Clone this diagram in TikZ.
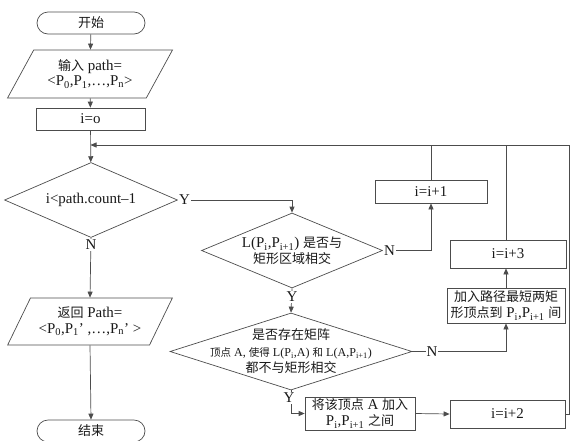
\documentclass[tikz,border=0pt]{standalone}
\usepackage{fontspec}
\setmainfont{Liberation Serif}[Scale=1.15]
\newfontfamily\cjk{Noto Sans CJK SC}
\usetikzlibrary{shapes.geometric,arrows.meta,calc}
\newcommand\zh[1]{{\cjk #1}}
\newcommand\sub[1]{\textsubscript{#1}}
\begin{document}
\begin{tikzpicture}[x=1pt,y=-1pt,
  line width=0.7pt,
  every node/.style={text=black!90, font=\fontsize{13}{15.5}\selectfont},
  box/.style={draw=black!70, rectangle, inner sep=1pt, align=center},
  term/.style={draw=black!70, rectangle, rounded corners=11pt, minimum width=108pt, minimum height=22pt, inner sep=0pt},
  io/.style={draw=black!70, trapezium, trapezium left angle=56, trapezium right angle=124, trapezium stretches=true, minimum width=165pt, minimum height=48pt, inner sep=0pt, align=center},
  dec/.style={draw=black!70, diamond, inner sep=0pt},
  txt/.style={align=center, inner sep=0pt},
  lbl/.style={inner sep=1pt, fill=white},
  arr/.style={draw=black!70, -{Triangle[length=6pt,width=5pt]}},
  ln/.style={draw=black!70}
]
\useasboundingbox (0,0) rectangle (570,440);
% left column
\node[term] (start) at (91,23) {\zh{开始}};
\node[io] (input) at (90,74) {\zh{输入} path=\\\textless P\sub{0},P\sub{1},…,P\sub{n}\textgreater};
\node[box, minimum width=109pt, minimum height=22pt] (init) at (90.5,119) {i=o};
\node[dec, minimum width=173pt, minimum height=75pt] (d1) at (91,200) {};
\node[txt] (d1t) at (d1) {i\textless path.count–1};
\node[io, minimum height=47pt] (output) at (90,321.5) {\zh{返回} Path=\\\textless P\sub{0},P\sub{1}’ ,…,P\sub{n}’ \textgreater};
\node[term] (end) at (91,431) {\zh{结束}};
% middle
\node[dec, minimum width=181pt, minimum height=75pt] (d2) at (292,250.5) {};
\node[txt] (d2t) at (d2) {L(P\sub{i},P\sub{i+1}) \zh{是否与}\\\zh{矩形区域相交}};
\node[dec, minimum width=242pt, minimum height=77pt] (d3) at (291,351.5) {};
\node[txt] (d3t) at (d3) {\zh{是否存在矩阵}\\[1pt]{\fontsize{10.5}{13}\selectfont\zh{顶点} A, \zh{使得} L(P\sub{i},A) \zh{和} L(A,P\sub{i+1})}\\[1pt]\zh{都不与矩形相交}};
\node[box, minimum width=110pt, minimum height=33pt] (ins) at (360,413.5) {\zh{将该顶点} A \zh{加入}\\P\sub{i},P\sub{i+1} \zh{之间}};
% right
\node[box, minimum width=112pt, minimum height=23pt] (inc1) at (431,191.5) {i=i+1};
\node[box, minimum width=116pt, minimum height=28pt] (inc3) at (508,254) {i=i+3};
\node[box, minimum width=118pt, minimum height=35pt] (addsp) at (506,305.5) {\zh{加入路径最短两矩}\\\zh{形顶点到} P\sub{i},P\sub{i+1} \zh{间}};
\node[box, minimum width=115pt, minimum height=28pt] (inc2) at (507.5,414) {i=i+2};
\coordinate (fbR) at (569,145);
% connectors
\draw[arr] (start) -- (input);
\draw[arr] (input) -- (init);
\draw[arr] (init) -- (d1);
\draw[arr] (d1.east) -| (d2.north);
\node[lbl, anchor=west] (y1) at (d1.east) {Y};
\draw[arr] (d1.south) -- (output.north);
\node[lbl] (n1) at (91,245) {N};
\draw[arr] (output.south) -- (end.north);
\draw[arr] (d2.east) -| (inc1.south);
\node[lbl, anchor=west] (n2) at (d2.east) {N};
\draw[arr] (d2.south) -- (d3.north);
\node[lbl] (y2) at (292,297) {Y};
\draw[arr] (d3.east) -| (addsp.south);
\node[lbl] (n3) at (432,351.5) {N};
\draw[arr] (addsp.north) -- (addsp.north |- inc3.south);
\draw[arr] (d3.south) |- (ins.west);
\node[lbl] (y3) at (289,398) {Y};
\draw[arr] (ins.east) -- (inc2.west);
\draw[ln] (inc1.north) -- (inc1.north |- fbR);
\draw[ln] (addsp.north |- inc3.north) -- (addsp.north |- fbR);
\draw[arr] (inc2.east) -| (fbR) -- (init.south |- fbR);
\end{tikzpicture}
\end{document}
